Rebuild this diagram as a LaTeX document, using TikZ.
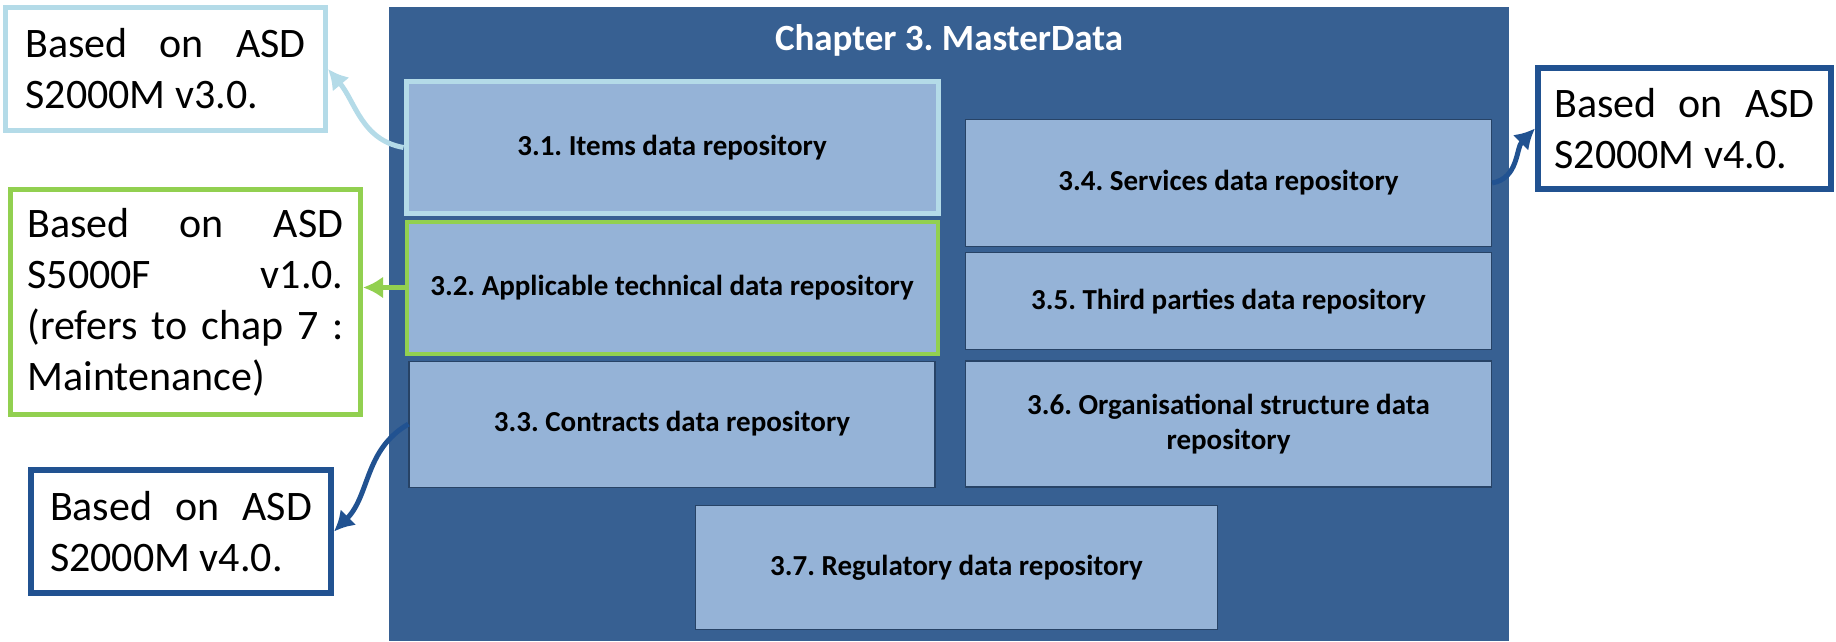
\documentclass[tikz,border=0pt]{standalone}
\usepackage{fontspec}
\setmainfont{Carlito}
\usetikzlibrary{shapes,arrows.meta,positioning}
\definecolor{masterblue}{RGB}{55,96,146}
\definecolor{repofill}{RGB}{149,179,215}
\definecolor{skyline}{RGB}{180,219,232}
\definecolor{greenline}{RGB}{146,208,80}
\definecolor{navyline}{RGB}{33,82,145}
\tikzstyle{chapter} = [rectangle, fill=masterblue, minimum width=560pt, minimum height=317pt]
\tikzstyle{repo} = [rectangle, draw=masterblue!70!black, line width=0.6pt, fill=repofill,
    text centered, font=\bfseries\fontsize{14.5}{17.5}\selectfont]
\tikzstyle{note} = [rectangle, fill=white, align=justify, font=\fontsize{21}{25.5}\selectfont]
\tikzstyle{line} = [draw, line width=2.5pt, -{Latex[length=10pt,width=11pt]}]

\begin{document}
\frenchspacing
\begin{tikzpicture}[x=0.5pt, y=-0.5pt]
  \useasboundingbox (0,0) rectangle (1836,642);
  \node [chapter] (master) at (949,324) {};
  \node [text=white, font=\bfseries\fontsize{18.5}{22}\selectfont] (title) at (949,40) {Chapter 3. MasterData};
  % left column
  \node [repo, draw=skyline, line width=2.5pt, minimum width=266pt, minimum height=65.5pt] (r31) at (672,147.5) {3.1. Items data repository};
  \node [repo, draw=greenline, line width=2pt, minimum width=265.5pt, minimum height=66pt, below=2pt of r31] (r32) {3.2. Applicable technical data repository};
  \node [repo, minimum width=263pt, minimum height=63pt, below=2.5pt of r32] (r33) {3.3. Contracts data repository};
  % right column
  \node [repo, minimum width=263pt, minimum height=63.5pt] (r34) at (1228.5,183) {3.4. Services data repository};
  \node [repo, minimum width=263pt, minimum height=48.5pt, below=2.5pt of r34] (r35) {3.5. Third parties data repository};
  \node [repo, align=center, minimum width=263pt, minimum height=63pt, below=5pt of r35] (r36) {3.6. Organisational structure data\\repository};
  \node [repo, minimum width=261pt, minimum height=62pt] (r37) at (956.5,567.5) {3.7. Regulatory data repository};
  % notes
  \node [note, draw=skyline, line width=2.5pt, text width=140pt, minimum width=160pt, minimum height=61.5pt] (n31) at (165.5,69) {Based on ASD\linebreak S2000M v3.0.};
  \node [note, draw=greenline, line width=2.5pt, text width=158pt, minimum width=175pt, minimum height=112.5pt] (n32) at (185.5,302) {Based on ASD\linebreak S5000F v1.0.\linebreak (refers to chap 7 :\linebreak Maintenance)};
  \node [note, draw=navyline, line width=3pt, text width=131pt, minimum width=150pt, minimum height=61.5pt] (n33) at (181,531.5) {Based on ASD\linebreak S2000M v4.0.};
  \node [note, draw=navyline, line width=3pt, text width=130pt, minimum width=146.5pt, minimum height=60.5pt] (n34) at (1684.5,128.5) {Based on ASD\linebreak S2000M v4.0.};
  \path [line, skyline] (r31.west) to[out=170, in=-50] (n31.east);
  \path [line, greenline] (r32.west) -- (r32.west -| n32.east);
  \path [line, navyline] (r33.west) to[out=210, in=45] (n33.east);
  \path [line, navyline] (r34.east) to[out=10, in=225] (n34.west);
\end{tikzpicture}
\end{document}
